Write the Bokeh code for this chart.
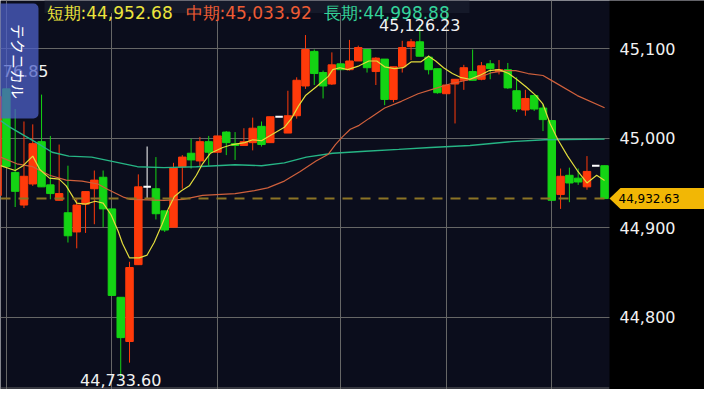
import math
from bokeh.plotting import figure
from bokeh.models import (Range1d, FixedTicker, NumeralTickFormatter, Grid, Span, Label,
                          BoxAnnotation, PolyAnnotation, ColumnDataSource)
from bokeh.embed import file_html
from bokeh.resources import INLINE

# ---------------- data ----------------
idx = list(range(-1, 69))
opens = [44936.1, 45055.0, 44961.8, 44925.4, 44948.9, 44996.1, 44947.9, 44930.7, 44916.8, 44895.4,
         44926.4, 44943.6, 44956.4, 44921.1, 44822.5, 44773.2, 44858.9, 44945.7, 44943.6, 44918.9,
         44900.7, 44968.2, 44983.2, 44974.6, 44996.1, 44984.3, 45006.8, 44993.9, 44991.8, 44995.0,
         45013.2, 44995.0, 45023.9, 45005.7, 45025.0, 45058.2, 45096.8, 45073.2, 45060.4, 45082.9,
         45076.4, 45086.1, 45098.9, 45074.3, 45088.2, 45043.2, 45079.6, 45102.1, 45107.5, 45090.4,
         45077.5, 45049.6, 45060.4, 45064.6, 45074.3, 45065.7, 45082.9, 45074.3, 45076.4, 45052.9,
         45031.4, 45047.5, 45033.6, 45019.6, 44937.1, 44958.6, 44955.4, 44945.7, 44969.3, 44969.3]
highs = [45051.8, 45055.0, 45032.5, 45018.6, 45015.4, 45048.6, 45002.5, 44992.9, 44969.3, 44932.9,
         44940.4, 44963.9, 44963.9, 44921.1, 44822.5, 44862.1, 44959.6, 44990.7, 44978.9, 44918.9,
         44972.5, 44981.1, 44999.3, 45001.4, 45002.5, 45002.5, 45007.9, 45006.8, 45011.1, 45022.9,
         45018.6, 45023.9, 45023.9, 45052.9, 45067.9, 45115.0, 45098.9, 45075.4, 45095.7, 45082.9,
         45109.6, 45103.2, 45098.9, 45090.4, 45088.2, 45079.6, 45108.6, 45110.7, 45126.23, 45092.5,
         45077.5, 45059.3, 45065.7, 45081.8, 45098.9, 45085.0, 45087.1, 45087.1, 45083.9, 45067.9,
         45053.9, 45047.5, 45037.9, 45019.6, 44966.1, 44967.1, 44966.1, 44980.0, 44969.3, 44969.3]
lows = [44928.6, 44968.2, 44923.2, 44922.1, 44946.8, 44945.7, 44931.8, 44930.7, 44883.6, 44877.1,
        44894.3, 44904.0, 44900.7, 44824.6, 44733.6, 44749.6, 44858.9, 44931.8, 44909.3, 44895.4,
        44900.7, 44943.6, 44966.1, 44968.2, 44969.3, 44984.3, 44981.1, 44975.7, 44991.8, 44986.4,
        44990.7, 44995.0, 45023.9, 45005.7, 45021.8, 45055.0, 45059.3, 45044.3, 45059.3, 45076.4,
        45075.4, 45086.1, 45073.2, 45059.3, 45036.8, 45040.0, 45073.2, 45087.1, 45091.4, 45071.1,
        45049.6, 45049.6, 45016.4, 45053.9, 45064.6, 45064.6, 45065.7, 45071.1, 45055.0, 45029.3,
        45025.0, 45030.4, 45007.9, 44930.7, 44921.1, 44928.6, 44947.9, 44942.5, 44969.3, 44932.63]
closes = [45046.4, 44968.2, 44940.7, 44957.5, 44993.9, 44945.7, 44938.2, 44938.2, 44891.1, 44925.4,
          44940.4, 44953.2, 44921.1, 44824.6, 44777.5, 44855.7, 44945.7, 44945.7, 44915.7, 44897.5,
          44967.1, 44978.9, 44975.7, 44996.1, 44984.3, 45002.5, 44995.0, 44991.8, 44996.1, 45011.1,
          44992.9, 45023.9, 45023.9, 45025.0, 45064.6, 45098.9, 45072.1, 45058.2, 45081.8, 45076.4,
          45086.1, 45101.1, 45078.6, 45089.3, 45043.2, 45079.6, 45101.1, 45107.5, 45091.4, 45076.4,
          45050.7, 45059.3, 45065.7, 45078.6, 45064.6, 45080.7, 45077.5, 45076.4, 45056.1, 45032.5,
          45044.3, 45032.5, 45020.7, 44930.7, 44957.5, 44950.0, 44951.1, 44962.9, 44969.3, 44932.63]

short_x = [-0.67, 1.0, 1.9, 3.0, 3.8, 4.9, 6.0, 6.8, 8.0, 9.0, 10.1, 11.0, 11.9, 12.7, 13.2, 14.0,
           15.1, 16.0, 16.8, 17.7, 18.4, 19.1, 19.9, 20.8, 21.6, 22.3, 23.2, 24.6, 25.7, 27.1, 28.0,
           29.0, 30.1, 31.6, 32.4, 33.2, 34.0, 35.2, 36.6, 37.1, 37.9, 38.8, 40.1, 41.2, 42.1, 43.0,
           44.1, 45.1, 46.0, 47.1, 48.0, 48.8, 49.7, 50.7, 51.6, 52.7, 53.8, 54.9, 56.0, 57.1, 58.0,
           59.1, 60.2, 61.0, 61.8, 62.7, 63.8, 64.9, 66.0, 67.1, 68.0]
short_v = [44969.3, 44963.9, 44969.3, 44980.0, 44965.0, 44955.4, 44954.3, 44946.8, 44927.5, 44926.4,
           44929.6, 44927.5, 44914.6, 44896.4, 44882.5, 44866.4, 44866.4, 44869.6, 44883.6, 44904.0,
           44921.1, 44935.0, 44941.4, 44946.8, 44958.6, 44971.4, 44983.2, 44989.6, 44992.9, 44995.0,
           44998.2, 44997.1, 45003.6, 45012.1, 45021.8, 45035.7, 45047.5, 45057.1, 45068.9, 45076.4,
           45078.6, 45076.4, 45080.7, 45086.1, 45086.1, 45079.6, 45077.5, 45078.6, 45085.0, 45085.0,
           45091.4, 45086.1, 45078.6, 45072.1, 45067.9, 45065.7, 45070.0, 45075.4, 45076.4, 45072.1,
           45065.7, 45057.1, 45047.5, 45037.9, 45016.4, 44998.2, 44980.0, 44963.9, 44950.0, 44958.6,
           44952.68]

med_x = [-0.67, 1.2, 3.0, 4.9, 6.8, 8.6, 10.4, 11.6, 13.4, 14.1, 17.9, 20.1, 22.3, 26.0, 28.2,
         29.7, 31.6, 33.4, 35.2, 36.6, 37.4, 38.2, 39.1, 40.1, 41.2, 43.0, 44.9, 46.8, 48.6, 50.4,
         52.3, 53.8, 55.2, 56.8, 57.9, 59.3, 61.0, 62.3, 64.9, 68.0]
med_v = [44978.9, 44971.4, 44968.2, 44958.6, 44953.2, 44952.1, 44948.9, 44942.5, 44933.9, 44931.8,
         44930.7, 44931.8, 44936.1, 44938.2, 44941.4, 44944.6, 44952.1, 44962.9, 44974.6, 44982.1,
         44992.9, 45001.4, 45010.0, 45014.3, 45021.8, 45033.6, 45041.1, 45049.6, 45055.0, 45060.4,
         45064.6, 45067.9, 45073.2, 45075.4, 45075.4, 45072.1, 45069.9, 45062.5, 45047.5, 45033.92]

long_x = [-0.67, 0.44, 2.1, 3.8, 5.2, 7.1, 9.7, 12.3, 14.9, 17.9, 21.6, 26.0, 29.0, 31.6, 34.1,
          37.1, 40.8, 44.6, 48.2, 52.7, 57.4, 61.2, 68.0]
long_v = [45019.6, 45012.1, 45002.5, 44992.9, 44984.3, 44980.0, 44978.9, 44973.6, 44968.2, 44967.1,
          44968.2, 44970.4, 44969.3, 44972.5, 44978.9, 44983.2, 44985.4, 44987.5, 44989.6, 44991.8,
          44996.1, 44998.2, 44998.88]

axis_ticks = [44800, 44900, 45000, 45100]
grid_idx = [0, 12, 24, 38, 50, 62]
legend_names = ["短期", "中期", "長期"]
edge_label = "76.85"
tab_label = "テクニカル"

# ---------------- layout ----------------
W, H = 704, 389
FRAME_W = 609                       # width of the chart area; the rest is the price column
X0, X1 = -0.667, 68.56              # index range shown in the chart area
X_END = X0 + (X1 - X0) * W / FRAME_W
Y0, Y1 = 44719.64, 45153.57
PX = (Y1 - Y0) / H                  # price per pixel
GOLD = "#f2b705"

RED, GREEN, WHITE = "#ff3a0a", "#14d414", "#ffffff"
colors = [RED if c > o else (GREEN if c < o else WHITE) for o, c in zip(opens, closes)]
tops = [max(o, c) for o, c in zip(opens, closes)]
bots = [min(o, c) for o, c in zip(opens, closes)]
lws = [2 if o == c else 1 for o, c in zip(opens, closes)]

src = ColumnDataSource(dict(idx=idx, high=highs, low=lows, top=tops, bottom=bots,
                            color=colors, lw=lws))

p = figure(width=W, height=H, output_backend="svg", toolbar_location=None,
           x_range=Range1d(X0, X_END), y_range=Range1d(Y0, Y1),
           x_axis_location=None, y_axis_location="right",
           min_border_left=0, min_border_top=0, min_border_bottom=0, min_border_right=0)
p.background_fill_color = "#0b0d1c"
p.border_fill_color = "#000000"
p.outline_line_color = None

p.ygrid.ticker = FixedTicker(ticks=axis_ticks)
p.ygrid.grid_line_color = "#666666"
p.xgrid.visible = False
p.add_layout(Grid(dimension=0, ticker=FixedTicker(ticks=grid_idx),
                  grid_line_color="#666666"), "center")
p.add_layout(BoxAnnotation(left=0, right=FRAME_W, bottom=1, top=2, left_units="screen",
                           right_units="screen", top_units="screen", bottom_units="screen",
                           fill_color="#666666", fill_alpha=1, line_color=None,
                           level="underlay"))
# black price column on the right
p.add_layout(BoxAnnotation(left=FRAME_W, right=W + 10, left_units="screen",
                           right_units="screen", fill_color="#000000", fill_alpha=1,
                           line_color=None, level="underlay"))

# price axis drawn at the edge of the chart area, labels to its right
yax = p.yaxis[0]
yax.fixed_location = X1
yax.ticker = FixedTicker(ticks=axis_ticks)
yax.formatter = NumeralTickFormatter(format="0,0")
yax.axis_line_color = None
yax.major_tick_line_color = None
yax.minor_tick_line_color = None
yax.major_tick_out = 0
yax.major_tick_in = 0
yax.major_label_standoff = 10
yax.major_label_text_color = "#f2f2f2"
yax.major_label_text_font = "DejaVu Sans"
yax.major_label_text_font_size = "16px"

# candles
p.segment(x0="idx", y0="high", x1="idx", y1="low", line_color="color",
          line_width=1, source=src)
p.vbar(x="idx", width=0.85, top="top", bottom="bottom", fill_color="color",
       line_color="color", line_width="lw", source=src)

# moving averages
p.line(long_x, long_v, line_color="#26b585", line_width=1.4)
p.line(med_x, med_v, line_color="#d0603c", line_width=1.2)
p.line(short_x, short_v, line_color="#e2dc3c", line_width=1.2)

last = closes[-1]
p.add_layout(Span(location=last, dimension="width", line_color="#8c7425",
                  line_width=2, line_dash="10 8"))

# high / low annotations
hi = max(highs)
lo = min(lows)
p.add_layout(Label(x=idx[highs.index(hi)], y=hi, text=f"{hi:,.2f}", text_align="center",
                   text_baseline="alphabetic", text_color="#f2f2f2",
                   text_font="DejaVu Sans", text_font_size="16px"))
p.add_layout(Label(x=idx[lows.index(lo)], y=10, y_units="screen", text=f"{lo:,.2f}",
                   text_align="center", text_baseline="alphabetic", text_color="#f2f2f2",
                   text_font="DejaVu Sans", text_font_size="16px"))

# price tag
h = 10.5 * PX
p.add_layout(PolyAnnotation(xs=[FRAME_W, FRAME_W + 11, W + 10, W + 10, FRAME_W + 11],
                            ys=[last, last + h, last + h, last - h, last - h],
                            xs_units="screen", ys_units="data",
                            fill_color=GOLD, fill_alpha=1, line_color=None))
p.add_layout(Label(x=FRAME_W + 9, y=last, x_units="screen", text=f"{last:,.2f}",
                   text_align="left", text_baseline="middle", text_color="#000000",
                   text_font="DejaVu Sans", text_font_size="12px"))

# legend
p.add_layout(BoxAnnotation(left=44, right=469, top=H, bottom=H - 12.5,
                           left_units="screen", right_units="screen",
                           top_units="screen", bottom_units="screen",
                           fill_color="#151929", fill_alpha=1, line_color=None))
leg_vals = [short_v[-1], med_v[-1], long_v[-1]]
leg_cols = ["#ece43c", "#ee5c34", "#34d49a"]
leg_x = [46, 185, 323]
for name, v, c, x in zip(legend_names, leg_vals, leg_cols, leg_x):
    p.add_layout(Label(x=x, y=H - 12, x_units="screen", y_units="screen",
                       text=f"{name}:{v:,.2f}", text_align="left",
                       text_baseline="alphabetic", text_color=c,
                       text_font="DejaVu Sans", text_font_size="17px"))

# left edge label and tab
p.add_layout(Label(x=48, y=H - 70, x_units="screen", y_units="screen", text=edge_label,
                   text_align="right", text_baseline="alphabetic", text_color="#f2f2f2",
                   text_font="DejaVu Sans", text_font_size="16px"))
p.add_layout(BoxAnnotation(left=-6, right=38, top=H - 3, bottom=H - 118,
                           left_units="screen", right_units="screen",
                           top_units="screen", bottom_units="screen",
                           fill_color="#4e60c7", fill_alpha=0.75, line_color=None,
                           border_radius=5))
p.add_layout(Label(x=18, y=H - 61, x_units="screen", y_units="screen", text=tab_label,
                   angle=-math.pi / 2, text_align="center", text_baseline="middle",
                   text_color="#ffffff", text_font="Noto Sans CJK JP",
                   text_font_size="15px"))

open("out.html", "w").write(file_html(p, INLINE))
